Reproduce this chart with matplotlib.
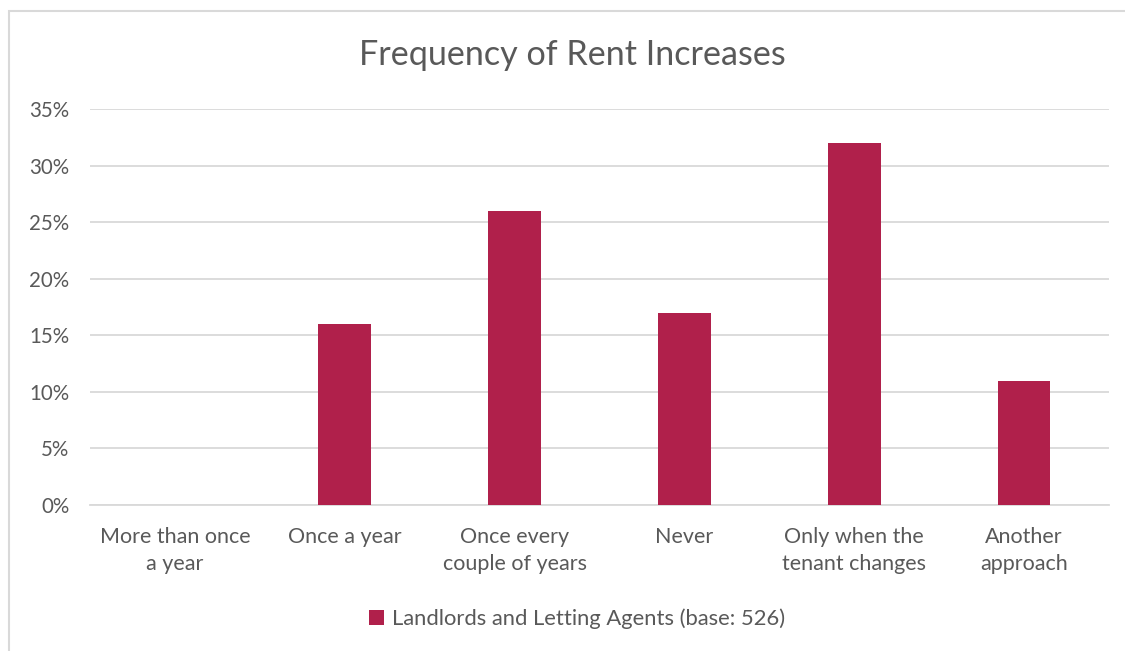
import matplotlib.pyplot as plt
from matplotlib.patches import Rectangle
from matplotlib.ticker import PercentFormatter

categories = [
    "More than once\na year",
    "Once a year",
    "Once every\ncouple of years",
    "Never",
    "Only when the\ntenant changes",
    "Another\napproach",
]
shares = [0, 16, 26, 17, 32, 11]
series_name = "Landlords and Letting Agents (base: 526)"
y_ticks = [0, 5, 10, 15, 20, 25, 30, 35]

BAR = "#B0204B"
TEXT = "#595959"
GRID = "#D9D9D9"

plt.rcParams["font.family"] = ["Lato", "DejaVu Sans"]

fig = plt.figure(figsize=(11.25, 6.51), dpi=100)
ax = fig.add_axes([0.08, 0.2243, 0.9058, 0.6083])

x = range(len(categories))
ax.bar(x, [v / 100 for v in shares], width=0.31, color=BAR, label=series_name, zorder=3)

ax.set_xlim(-0.5, len(categories) - 0.5)
ax.set_ylim(0, 0.35)
ax.set_yticks([t / 100 for t in y_ticks])
ax.yaxis.set_major_formatter(PercentFormatter(1.0, decimals=0))
ax.set_xticks(list(x))
ax.set_xticklabels(categories, linespacing=1.45)

ax.tick_params(axis="y", length=0, colors=TEXT, labelsize=14.8, pad=15)
ax.tick_params(axis="x", length=0, colors=TEXT, labelsize=15.5, pad=16)
ax.grid(axis="y", color=GRID, lw=1.3, zorder=0)
for side in ("left", "right", "top"):
    ax.spines[side].set_visible(False)
ax.spines["bottom"].set_color(GRID)
ax.spines["bottom"].set_linewidth(1.3)

fig.text(0.509, 0.9155, "Frequency of Rent Increases", ha="center", va="center",
         fontsize=24.6, color=TEXT)

fig.legend(loc="center", bbox_to_anchor=(0.513, 0.049), frameon=False,
           fontsize=15.8, labelcolor=TEXT, handlelength=0.7, handleheight=0.7,
           handletextpad=0.35)

# outer chart border, running off the right and bottom edges
fig.patches.append(Rectangle((8.5 / 1125, -0.1), 1.2, 1.1 - 10.5 / 651,
                             transform=fig.transFigure, fill=False,
                             edgecolor=GRID, lw=1.5))

fig.savefig("out.png", dpi=100, facecolor="white")
